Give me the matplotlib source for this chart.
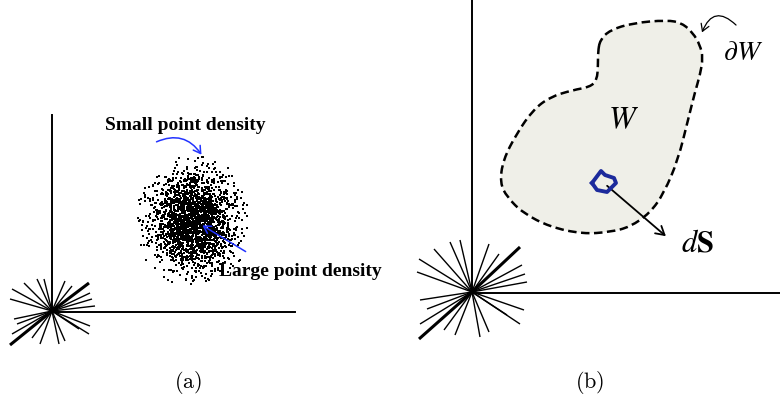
import numpy as np
import matplotlib
matplotlib.use("Agg")
import matplotlib.pyplot as plt
from matplotlib.collections import LineCollection
from matplotlib.patches import FancyArrowPatch, PathPatch
from matplotlib.path import Path

# everything is in pixel units of the 780x401 picture (y grows downward)

# panel (a): axes and star
a_origin = (52, 311)
a_yaxis_top = 115
a_xaxis_end = 295
a_rays = [(-40, -22), (-42, -12), (-28, -28), (-15, -32), (-8, -32), (13, -30),
          (20, -25), (37, -28), (38, -18), (40, -12), (43, -5), (-38, 8),
          (-35, 13), (-40, 23), (-42, 34), (-20, 27), (-12, 33), (7, 33),
          (13, 30), (27, 18), (37, 23), (38, 15)]
a_thick = [7, 14]

# point cloud (center, spread, count)
cloud_center = (193, 221)
cloud_sigma = (21, 24)
cloud_count = 2300
cloud_extent = (58, 66)

# panel (b): axes and star
b_origin = (472, 292)
b_xaxis_end = 780
b_rays = [(-53, -33), (-55, -20), (-38, -43), (-22, -50), (-12, -52), (17, -48),
          (27, -38), (48, -45), (50, -27), (53, -18), (55, -10), (-52, 8),
          (-45, 17), (-52, 32), (-53, 47), (-28, 38), (-17, 43), (8, 45),
          (17, 40), (35, 23), (48, 32), (52, 18)]
b_thick = [7, 14]

# blob outline W
blob_x = [600, 610, 633, 667, 682, 693, 700, 703, 700, 695, 688, 678, 664, 650, 630,
          610, 583, 550, 523, 507, 500, 503, 517, 533, 550, 573, 590, 597, 598, 598]
blob_y = [40, 30, 23, 20, 23, 33, 45, 58, 75, 92, 120, 160, 193, 213, 227,
          232, 234, 227, 213, 197, 183, 160, 133, 110, 97, 90, 87, 80, 65, 52]

# small surface element dS
quad_x = [592, 601, 605, 614, 616, 607, 597, 592]
quad_y = [183, 171, 175, 178, 183, 192, 190, 183]

blue = "#2233ff"
dark_blue = "#1c2a9c"

fig = plt.figure(figsize=(7.8, 4.01), dpi=100)
ax = fig.add_axes([0, 0, 1, 1])
ax.set_xlim(0, 780)
ax.set_ylim(401, 0)
ax.axis("off")


def star(origin, rays, thick):
    ox, oy = origin
    segs = [[(ox, oy), (ox + dx, oy + dy)] for dx, dy in rays]
    widths = [2.2 if i in thick else 1.0 for i in range(len(rays))]
    ax.add_collection(LineCollection(segs, colors="black", linewidths=widths))


# (a)
ax.plot([a_origin[0], a_origin[0]], [a_yaxis_top, a_origin[1]], color="black", lw=1.4)
ax.plot([a_origin[0], a_xaxis_end], [a_origin[1] + 1, a_origin[1] + 1], color="black", lw=1.4)
star(a_origin, a_rays, a_thick)

rng = np.random.default_rng(3)
px = rng.normal(cloud_center[0], cloud_sigma[0], cloud_count)
py = rng.normal(cloud_center[1], cloud_sigma[1], cloud_count)
keep = (((px - cloud_center[0]) / cloud_extent[0]) ** 2
        + ((py - cloud_center[1]) / cloud_extent[1]) ** 2) < 1
ax.scatter(px[keep], py[keep], s=1.8, marker="s", color="black", linewidths=0)

ax.text(185, 126, "Small point density", family="Liberation Serif", weight="bold",
        fontsize=14, ha="center", va="center")
ax.text(300, 272, "Large point density", family="Liberation Serif", weight="bold",
        fontsize=14, ha="center", va="center")
ax.add_patch(FancyArrowPatch((154, 143), (203, 157), connectionstyle="arc3,rad=-0.45",
                             arrowstyle="->,head_length=5,head_width=3", color=blue, lw=1.1))
ax.add_patch(FancyArrowPatch((248, 253), (200, 224),
                             arrowstyle="->,head_length=5,head_width=3", color=blue, lw=1.1))

# (b)
ax.plot([b_origin[0], b_origin[0]], [0, b_origin[1]], color="black", lw=1.4)
ax.plot([b_origin[0], b_xaxis_end], [b_origin[1] + 1, b_origin[1] + 1], color="black", lw=1.4)
star(b_origin, b_rays, b_thick)

pts = list(zip(blob_x, blob_y))
n = len(pts)
mid = lambda p, q: ((p[0] + q[0]) / 2, (p[1] + q[1]) / 2)
verts = [mid(pts[-1], pts[0])]
codes = [Path.MOVETO]
for i in range(n):
    verts += [pts[i], mid(pts[i], pts[(i + 1) % n])]
    codes += [Path.CURVE3, Path.CURVE3]
ax.add_patch(PathPatch(Path(verts, codes), facecolor="#efefe8", edgecolor="black",
                       lw=1.8, linestyle=(0, (3.4, 1.8))))

ax.plot(quad_x, quad_y, color=dark_blue, lw=2.8, solid_joinstyle="round")
ax.add_patch(FancyArrowPatch((605, 184), (668, 238),
                             arrowstyle="->,head_length=6,head_width=3.5", color="black", lw=1.3))
ax.add_patch(FancyArrowPatch((738, 27), (701, 35), connectionstyle="arc3,rad=0.8",
                             arrowstyle="->,head_length=5,head_width=3", color="black", lw=0.9))

ax.text(743, 52, r"$\partial W$", fontsize=20, ha="center", va="center", math_fontfamily="stix")
ax.text(623, 120, r"$W$", fontsize=23, ha="center", va="center", math_fontfamily="stix")
ax.text(697, 243, r"$d\mathbf{S}$", fontsize=22, ha="center", va="center", math_fontfamily="stix")

ax.text(188, 382, r"$\mathrm{(a)}$", fontsize=16, ha="center", va="center", math_fontfamily="cm")
ax.text(590, 382, r"$\mathrm{(b)}$", fontsize=16, ha="center", va="center", math_fontfamily="cm")

fig.savefig("out.png", dpi=100)
